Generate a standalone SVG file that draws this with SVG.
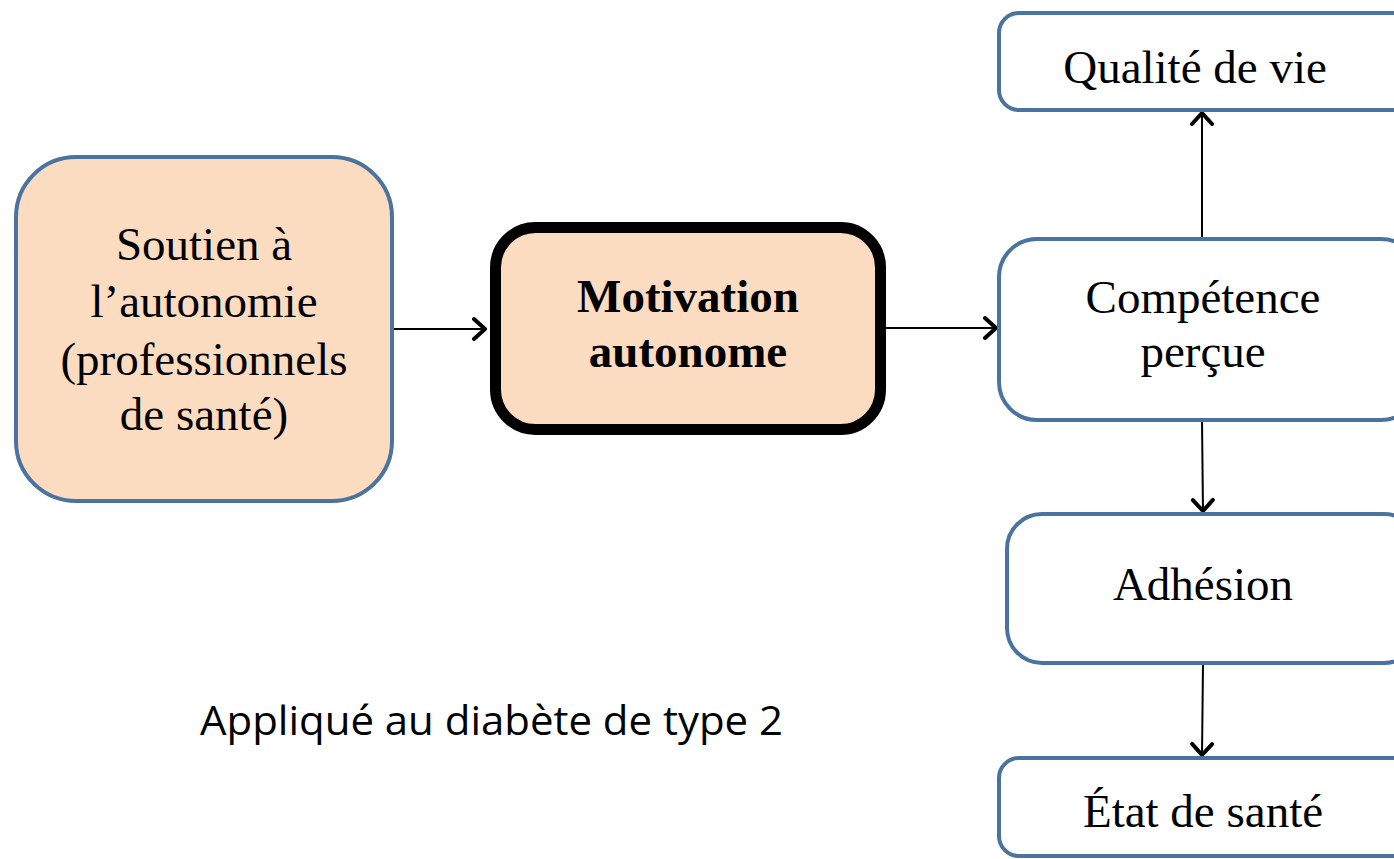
<svg xmlns="http://www.w3.org/2000/svg" width="1394" height="859" viewBox="0 0 1394 859">
<style>
.box{fill:#ffffff;stroke:#4A739F;stroke-width:4}
.peach{fill:#FBDCC1}
.t{font-family:"Liberation Serif","Times New Roman",serif;font-size:47px;fill:#000;text-anchor:middle}
.b{font-weight:bold;font-size:47px}
.conn{stroke:#000;stroke-width:2;fill:none}
</style>
<defs>
<marker id="arr" viewBox="0 0 16 26" refX="14" refY="13" markerWidth="16" markerHeight="26" markerUnits="userSpaceOnUse" orient="auto">
<path d="M3,3 L14,13 L3,23" fill="none" stroke="#000" stroke-width="4" stroke-linecap="round" stroke-linejoin="round"/>
</marker>
</defs>
<rect width="1394" height="859" fill="#ffffff"/>
<g id="connectors">
<line class="conn" x1="394" y1="329" x2="485" y2="329" marker-end="url(#arr)"/>
<line class="conn" x1="886" y1="328" x2="996" y2="328" marker-end="url(#arr)"/>
<line class="conn" x1="1202" y1="237" x2="1202" y2="113" marker-end="url(#arr)"/>
<line class="conn" x1="1202" y1="421" x2="1203" y2="511" marker-end="url(#arr)"/>
<line class="conn" x1="1203" y1="665" x2="1202" y2="755" marker-end="url(#arr)"/>
</g>
<g id="soutien">
<rect class="box peach" x="16" y="157" width="376" height="344" rx="60" ry="60"/>
<text class="t" x="204" y="260">Soutien à</text>
<text class="t" x="204" y="317">l’autonomie</text>
<text class="t" x="204" y="375">(professionnels</text>
<text class="t" x="204" y="430">de santé)</text>
</g>
<g id="motivation">
<rect x="495.5" y="227.5" width="385" height="202" rx="40" ry="40" fill="#FBDCC1" stroke="#000" stroke-width="11"/>
<text class="t b" x="688" y="312">Motivation</text>
<text class="t b" x="688" y="367">autonome</text>
</g>
<g id="qualite">
<rect class="box" x="999" y="13" width="420" height="97" rx="20" ry="20"/>
<text class="t" x="1195" y="83">Qualité de vie</text>
</g>
<g id="competence">
<rect class="box" x="999" y="239" width="420" height="181" rx="38" ry="38"/>
<text class="t" x="1203" y="313">Compétence</text>
<text class="t" x="1203" y="367">perçue</text>
</g>
<g id="adhesion">
<rect class="box" x="1007" y="514" width="412" height="149" rx="35" ry="35"/>
<text class="t" x="1203" y="600">Adhésion</text>
</g>
<g id="etat">
<rect class="box" x="999" y="758" width="420" height="98" rx="20" ry="20"/>
<text class="t" x="1203" y="827">État de santé</text>
</g>
<g id="note">
<text x="200" y="735" font-family="'Open Sans','Noto Sans',sans-serif" font-size="40" textLength="583" lengthAdjust="spacingAndGlyphs" fill="#000">Appliqué au diabète de type 2</text>
</g>
</svg>
